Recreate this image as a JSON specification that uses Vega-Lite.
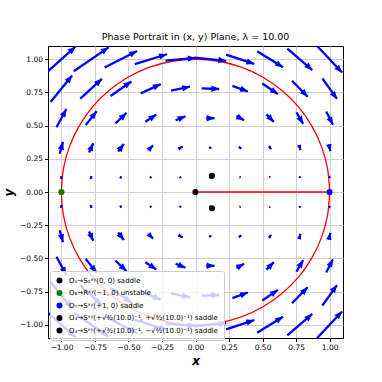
{
  "$schema": "https://vega.github.io/schema/vega-lite/v6.json",
  "width": 295,
  "height": 292,
  "autosize": {"type": "none"},
  "padding": {"left": 48, "top": 46, "right": 39, "bottom": 44},
  "background": "white",
  "config": {
    "font": "DejaVu Sans",
    "view": {"stroke": "black", "strokeWidth": 1},
    "axis": {
      "labelFont": "DejaVu Sans", "labelFontSize": 7.5, "labelColor": "black",
      "tickColor": "black", "tickSize": 3.5, "domainColor": "black",
      "gridColor": "#d0d0d0", "gridWidth": 1,
      "titleFont": "DejaVu Sans", "titleFontSize": 12, "titleFontStyle": "italic", "titleFontWeight": "bold", "titleColor": "black"
    }
  },
  "title": {"text": "Phase Portrait in (x, y) Plane, λ = 10.00", "fontSize": 9.5, "fontWeight": "normal", "font": "DejaVu Sans", "color": "black", "offset": 5, "anchor": "middle"},
  "encoding": {
    "x": {"field": "x0", "type": "quantitative", "scale": {"domain": [-1.1, 1.1], "nice": false, "zero": false},
          "axis": {"values": [-1, -0.75, -0.5, -0.25, 0, 0.25, 0.5, 0.75, 1], "format": ".2f", "title": "x", "titlePadding": 4, "labelPadding": 2, "grid": true, "labelOverlap": false, "labelFlush": false, "labelBound": false}},
    "y": {"field": "y0", "type": "quantitative", "scale": {"domain": [-1.1, 1.1], "nice": false, "zero": false},
          "axis": {"values": [-1, -0.75, -0.5, -0.25, 0, 0.25, 0.5, 0.75, 1], "format": ".2f", "title": "y", "titlePadding": 4, "labelPadding": 2, "grid": true, "labelOverlap": false, "labelFlush": false, "labelBound": false}}
  },
  "datasets": {
    "arrows": [
      {"x0":-1.105,"y0":0.905,"x1":-0.895,"y1":1.095},
      {"x0":-0.908,"y0":0.91,"x1":-0.648,"y1":1.09},
      {"x0":-0.678,"y0":0.938,"x1":-0.435,"y1":1.063},
      {"x0":-0.453,"y0":0.963,"x1":-0.213,"y1":1.038},
      {"x0":-0.223,"y0":0.99,"x1":0.001,"y1":1.01},
      {"x0":-0.007,"y0":1.013,"x1":0.229,"y1":0.988},
      {"x0":0.228,"y0":1.035,"x1":0.438,"y1":0.965},
      {"x0":0.46,"y0":1.06,"x1":0.653,"y1":0.94},
      {"x0":0.685,"y0":1.081,"x1":0.871,"y1":0.919},
      {"x0":0.907,"y0":1.1,"x1":1.093,"y1":0.9},
      {"x0":-1.105,"y0":-0.905,"x1":-0.895,"y1":-1.095},
      {"x0":-0.908,"y0":-0.91,"x1":-0.648,"y1":-1.09},
      {"x0":-0.678,"y0":-0.938,"x1":-0.435,"y1":-1.063},
      {"x0":-0.453,"y0":-0.963,"x1":-0.213,"y1":-1.038},
      {"x0":-0.223,"y0":-0.99,"x1":0.001,"y1":-1.01},
      {"x0":-0.007,"y0":-1.013,"x1":0.229,"y1":-0.988},
      {"x0":0.228,"y0":-1.035,"x1":0.438,"y1":-0.965},
      {"x0":0.46,"y0":-1.06,"x1":0.653,"y1":-0.94},
      {"x0":0.685,"y0":-1.081,"x1":0.871,"y1":-0.919},
      {"x0":0.907,"y0":-1.1,"x1":1.093,"y1":-0.9},
      {"x0":-1.081,"y0":0.678,"x1":-0.92,"y1":0.878},
      {"x0":-0.859,"y0":0.703,"x1":-0.698,"y1":0.853},
      {"x0":-0.634,"y0":0.723,"x1":-0.478,"y1":0.833},
      {"x0":-0.408,"y0":0.743,"x1":-0.259,"y1":0.813},
      {"x0":-0.182,"y0":0.763,"x1":-0.041,"y1":0.793},
      {"x0":0.046,"y0":0.781,"x1":0.177,"y1":0.776},
      {"x0":0.275,"y0":0.799,"x1":0.391,"y1":0.757},
      {"x0":0.498,"y0":0.818,"x1":0.614,"y1":0.738},
      {"x0":0.72,"y0":0.838,"x1":0.836,"y1":0.718},
      {"x0":0.946,"y0":0.856,"x1":1.055,"y1":0.701},
      {"x0":-1.081,"y0":-0.678,"x1":-0.92,"y1":-0.878},
      {"x0":-0.859,"y0":-0.703,"x1":-0.698,"y1":-0.853},
      {"x0":-0.634,"y0":-0.723,"x1":-0.478,"y1":-0.833},
      {"x0":-0.408,"y0":-0.743,"x1":-0.259,"y1":-0.813},
      {"x0":-0.182,"y0":-0.763,"x1":-0.041,"y1":-0.793},
      {"x0":0.046,"y0":-0.781,"x1":0.177,"y1":-0.776},
      {"x0":0.275,"y0":-0.799,"x1":0.391,"y1":-0.757},
      {"x0":0.498,"y0":-0.818,"x1":0.614,"y1":-0.738},
      {"x0":0.72,"y0":-0.838,"x1":0.836,"y1":-0.718},
      {"x0":0.946,"y0":-0.856,"x1":1.055,"y1":-0.701},
      {"x0":-1.037,"y0":0.488,"x1":-0.963,"y1":0.625},
      {"x0":-0.819,"y0":0.504,"x1":-0.737,"y1":0.609},
      {"x0":-0.597,"y0":0.516,"x1":-0.515,"y1":0.596},
      {"x0":-0.374,"y0":0.529,"x1":-0.292,"y1":0.584},
      {"x0":-0.148,"y0":0.541,"x1":-0.074,"y1":0.571},
      {"x0":0.08,"y0":0.556,"x1":0.142,"y1":0.556},
      {"x0":0.305,"y0":0.572,"x1":0.362,"y1":0.54},
      {"x0":0.529,"y0":0.585,"x1":0.584,"y1":0.528},
      {"x0":0.753,"y0":0.6,"x1":0.803,"y1":0.513},
      {"x0":0.975,"y0":0.606,"x1":1.025,"y1":0.506},
      {"x0":-1.037,"y0":-0.488,"x1":-0.963,"y1":-0.625},
      {"x0":-0.819,"y0":-0.504,"x1":-0.737,"y1":-0.609},
      {"x0":-0.597,"y0":-0.516,"x1":-0.515,"y1":-0.596},
      {"x0":-0.374,"y0":-0.529,"x1":-0.292,"y1":-0.584},
      {"x0":-0.148,"y0":-0.541,"x1":-0.074,"y1":-0.571},
      {"x0":0.08,"y0":-0.556,"x1":0.142,"y1":-0.556},
      {"x0":0.305,"y0":-0.572,"x1":0.362,"y1":-0.54},
      {"x0":0.529,"y0":-0.585,"x1":0.584,"y1":-0.528},
      {"x0":0.753,"y0":-0.6,"x1":0.803,"y1":-0.513},
      {"x0":0.975,"y0":-0.606,"x1":1.025,"y1":-0.506},
      {"x0":-1.013,"y0":0.288,"x1":-0.988,"y1":0.378},
      {"x0":-0.794,"y0":0.298,"x1":-0.762,"y1":0.368},
      {"x0":-0.577,"y0":0.305,"x1":-0.535,"y1":0.362},
      {"x0":-0.351,"y0":0.316,"x1":-0.316,"y1":0.351},
      {"x0":-0.126,"y0":0.325,"x1":-0.096,"y1":0.342},
      {"x0":0.104,"y0":0.333,"x1":0.119,"y1":0.333},
      {"x0":0.325,"y0":0.338,"x1":0.342,"y1":0.328},
      {"x0":0.549,"y0":0.343,"x1":0.564,"y1":0.323},
      {"x0":0.772,"y0":0.352,"x1":0.784,"y1":0.315},
      {"x0":0.994,"y0":0.358,"x1":1.006,"y1":0.308},
      {"x0":-1.013,"y0":-0.288,"x1":-0.988,"y1":-0.378},
      {"x0":-0.794,"y0":-0.298,"x1":-0.762,"y1":-0.368},
      {"x0":-0.577,"y0":-0.305,"x1":-0.535,"y1":-0.362},
      {"x0":-0.351,"y0":-0.316,"x1":-0.316,"y1":-0.351},
      {"x0":-0.126,"y0":-0.325,"x1":-0.096,"y1":-0.342},
      {"x0":0.104,"y0":-0.333,"x1":0.119,"y1":-0.333},
      {"x0":0.325,"y0":-0.338,"x1":0.342,"y1":-0.328},
      {"x0":0.549,"y0":-0.343,"x1":0.564,"y1":-0.323},
      {"x0":0.772,"y0":-0.352,"x1":0.784,"y1":-0.315},
      {"x0":0.994,"y0":-0.358,"x1":1.006,"y1":-0.308},
      {"x0":-1,"y0":0.101,"x1":-1,"y1":0.121},
      {"x0":-0.781,"y0":0.101,"x1":-0.776,"y1":0.121},
      {"x0":-0.56,"y0":0.105,"x1":-0.553,"y1":0.118},
      {"x0":-0.337,"y0":0.108,"x1":-0.329,"y1":0.115},
      {"x0":-0.116,"y0":0.109,"x1":-0.106,"y1":0.113},
      {"x0":0.105,"y0":0.111,"x1":0.117,"y1":0.111},
      {"x0":0.33,"y0":0.112,"x1":0.336,"y1":0.11},
      {"x0":0.554,"y0":0.113,"x1":0.558,"y1":0.109},
      {"x0":0.777,"y0":0.115,"x1":0.78,"y1":0.107},
      {"x0":0.999,"y0":0.116,"x1":1.001,"y1":0.106},
      {"x0":-1,"y0":-0.101,"x1":-1,"y1":-0.121},
      {"x0":-0.781,"y0":-0.101,"x1":-0.776,"y1":-0.121},
      {"x0":-0.56,"y0":-0.105,"x1":-0.553,"y1":-0.118},
      {"x0":-0.337,"y0":-0.108,"x1":-0.329,"y1":-0.115},
      {"x0":-0.116,"y0":-0.109,"x1":-0.106,"y1":-0.113},
      {"x0":0.105,"y0":-0.111,"x1":0.117,"y1":-0.111},
      {"x0":0.33,"y0":-0.112,"x1":0.336,"y1":-0.11},
      {"x0":0.554,"y0":-0.113,"x1":0.558,"y1":-0.109},
      {"x0":0.777,"y0":-0.115,"x1":0.78,"y1":-0.107},
      {"x0":0.999,"y0":-0.116,"x1":1.001,"y1":-0.106}
    ],
    "heads": [
      {"x0":-0.895,"y0":1.095,"ang":47.9,"m":0.283},
      {"x0":-0.648,"y0":1.09,"ang":55.3,"m":0.316},
      {"x0":-0.435,"y0":1.063,"ang":62.8,"m":0.273},
      {"x0":-0.213,"y0":1.038,"ang":72.6,"m":0.251},
      {"x0":0.001,"y0":1.01,"ang":84.9,"m":0.224},
      {"x0":0.229,"y0":0.988,"ang":96.1,"m":0.236},
      {"x0":0.438,"y0":0.965,"ang":108.4,"m":0.221},
      {"x0":0.653,"y0":0.94,"ang":121.9,"m":0.227},
      {"x0":0.871,"y0":0.919,"ang":131.1,"m":0.247},
      {"x0":1.093,"y0":0.9,"ang":137.1,"m":0.273},
      {"x0":-0.895,"y0":-1.095,"ang":132.1,"m":0.283},
      {"x0":-0.648,"y0":-1.09,"ang":124.7,"m":0.316},
      {"x0":-0.435,"y0":-1.063,"ang":117.2,"m":0.273},
      {"x0":-0.213,"y0":-1.038,"ang":107.4,"m":0.251},
      {"x0":0.001,"y0":-1.01,"ang":95.1,"m":0.224},
      {"x0":0.229,"y0":-0.988,"ang":83.9,"m":0.236},
      {"x0":0.438,"y0":-0.965,"ang":71.6,"m":0.221},
      {"x0":0.653,"y0":-0.94,"ang":58.1,"m":0.227},
      {"x0":0.871,"y0":-0.919,"ang":48.9,"m":0.247},
      {"x0":1.093,"y0":-0.9,"ang":42.9,"m":0.273},
      {"x0":-0.92,"y0":0.878,"ang":38.8,"m":0.257},
      {"x0":-0.698,"y0":0.853,"ang":47.0,"m":0.22},
      {"x0":-0.478,"y0":0.833,"ang":54.8,"m":0.191},
      {"x0":-0.259,"y0":0.813,"ang":64.8,"m":0.165},
      {"x0":-0.041,"y0":0.793,"ang":78.0,"m":0.144},
      {"x0":0.177,"y0":0.776,"ang":92.2,"m":0.131},
      {"x0":0.391,"y0":0.757,"ang":109.9,"m":0.123},
      {"x0":0.614,"y0":0.738,"ang":124.6,"m":0.141},
      {"x0":0.836,"y0":0.718,"ang":136.0,"m":0.167},
      {"x0":1.055,"y0":0.701,"ang":144.9,"m":0.189},
      {"x0":-0.92,"y0":-0.878,"ang":141.2,"m":0.257},
      {"x0":-0.698,"y0":-0.853,"ang":133.0,"m":0.22},
      {"x0":-0.478,"y0":-0.833,"ang":125.2,"m":0.191},
      {"x0":-0.259,"y0":-0.813,"ang":115.2,"m":0.165},
      {"x0":-0.041,"y0":-0.793,"ang":102.0,"m":0.144},
      {"x0":0.177,"y0":-0.776,"ang":87.8,"m":0.131},
      {"x0":0.391,"y0":-0.757,"ang":70.1,"m":0.123},
      {"x0":0.614,"y0":-0.738,"ang":55.4,"m":0.141},
      {"x0":0.836,"y0":-0.718,"ang":44.0,"m":0.167},
      {"x0":1.055,"y0":-0.701,"ang":35.1,"m":0.189},
      {"x0":-0.963,"y0":0.625,"ang":28.4,"m":0.156},
      {"x0":-0.737,"y0":0.609,"ang":38.0,"m":0.133},
      {"x0":-0.515,"y0":0.596,"ang":45.7,"m":0.115},
      {"x0":-0.292,"y0":0.584,"ang":56.1,"m":0.099},
      {"x0":-0.074,"y0":0.571,"ang":67.9,"m":0.08},
      {"x0":0.142,"y0":0.556,"ang":90,"m":0.062},
      {"x0":0.362,"y0":0.54,"ang":119.3,"m":0.065},
      {"x0":0.584,"y0":0.528,"ang":136.0,"m":0.079},
      {"x0":0.803,"y0":0.513,"ang":150.1,"m":0.1},
      {"x0":1.025,"y0":0.506,"ang":153.4,"m":0.112},
      {"x0":-0.963,"y0":-0.625,"ang":151.6,"m":0.156},
      {"x0":-0.737,"y0":-0.609,"ang":142.0,"m":0.133},
      {"x0":-0.515,"y0":-0.596,"ang":134.3,"m":0.115},
      {"x0":-0.292,"y0":-0.584,"ang":123.9,"m":0.099},
      {"x0":-0.074,"y0":-0.571,"ang":112.1,"m":0.08},
      {"x0":0.142,"y0":-0.556,"ang":90,"m":0.062},
      {"x0":0.362,"y0":-0.54,"ang":60.7,"m":0.065},
      {"x0":0.584,"y0":-0.528,"ang":44.0,"m":0.079},
      {"x0":0.803,"y0":-0.513,"ang":29.9,"m":0.1},
      {"x0":1.025,"y0":-0.506,"ang":26.6,"m":0.112},
      {"x0":-0.988,"y0":0.378,"ang":15.5,"m":0.093},
      {"x0":-0.762,"y0":0.368,"ang":24.6,"m":0.077},
      {"x0":-0.535,"y0":0.362,"ang":36.4,"m":0.071},
      {"x0":-0.316,"y0":0.351,"ang":45,"m":0.049},
      {"x0":-0.096,"y0":0.342,"ang":60.5,"m":0.034},
      {"x0":0.119,"y0":0.333,"ang":90,"m":0.015},
      {"x0":0.342,"y0":0.328,"ang":120.5,"m":0.02},
      {"x0":0.564,"y0":0.323,"ang":143.1,"m":0.025},
      {"x0":0.784,"y0":0.315,"ang":162.0,"m":0.039},
      {"x0":1.006,"y0":0.308,"ang":166.5,"m":0.051},
      {"x0":-0.988,"y0":-0.378,"ang":164.5,"m":0.093},
      {"x0":-0.762,"y0":-0.368,"ang":155.4,"m":0.077},
      {"x0":-0.535,"y0":-0.362,"ang":143.6,"m":0.071},
      {"x0":-0.316,"y0":-0.351,"ang":135,"m":0.049},
      {"x0":-0.096,"y0":-0.342,"ang":119.5,"m":0.034},
      {"x0":0.119,"y0":-0.333,"ang":90,"m":0.015},
      {"x0":0.342,"y0":-0.328,"ang":59.5,"m":0.02},
      {"x0":0.564,"y0":-0.323,"ang":36.9,"m":0.025},
      {"x0":0.784,"y0":-0.315,"ang":18.0,"m":0.039},
      {"x0":1.006,"y0":-0.308,"ang":13.5,"m":0.051},
      {"x0":-1,"y0":0.121,"ang":0,"m":0.02},
      {"x0":-0.776,"y0":0.121,"ang":14,"m":0.021},
      {"x0":-0.553,"y0":0.118,"ang":28.3,"m":0.015},
      {"x0":-0.329,"y0":0.115,"ang":48.8,"m":0.011},
      {"x0":-0.106,"y0":0.113,"ang":68.2,"m":0.011},
      {"x0":0.117,"y0":0.111,"ang":90,"m":0.012},
      {"x0":0.336,"y0":0.11,"ang":108,"m":0.006},
      {"x0":0.558,"y0":0.109,"ang":135,"m":0.006},
      {"x0":0.78,"y0":0.107,"ang":159,"m":0.009},
      {"x0":1.001,"y0":0.106,"ang":169,"m":0.01},
      {"x0":-1,"y0":-0.121,"ang":180,"m":0.02},
      {"x0":-0.776,"y0":-0.121,"ang":166,"m":0.021},
      {"x0":-0.553,"y0":-0.118,"ang":151.7,"m":0.015},
      {"x0":-0.329,"y0":-0.115,"ang":131.2,"m":0.011},
      {"x0":-0.106,"y0":-0.113,"ang":111.8,"m":0.011},
      {"x0":0.117,"y0":-0.111,"ang":90,"m":0.012},
      {"x0":0.336,"y0":-0.11,"ang":72,"m":0.006},
      {"x0":0.558,"y0":-0.109,"ang":45,"m":0.006},
      {"x0":0.78,"y0":-0.107,"ang":21,"m":0.009},
      {"x0":1.001,"y0":-0.106,"ang":11,"m":0.01}
    ],
    "circle": [
      {"i":0,"x0":1,"y0":0},{"i":1,"x0":0.985,"y0":0.174},{"i":2,"x0":0.94,"y0":0.342},{"i":3,"x0":0.866,"y0":0.5},
      {"i":4,"x0":0.766,"y0":0.643},{"i":5,"x0":0.643,"y0":0.766},{"i":6,"x0":0.5,"y0":0.866},{"i":7,"x0":0.342,"y0":0.94},
      {"i":8,"x0":0.174,"y0":0.985},{"i":9,"x0":0,"y0":1},{"i":10,"x0":-0.174,"y0":0.985},{"i":11,"x0":-0.342,"y0":0.94},
      {"i":12,"x0":-0.5,"y0":0.866},{"i":13,"x0":-0.643,"y0":0.766},{"i":14,"x0":-0.766,"y0":0.643},{"i":15,"x0":-0.866,"y0":0.5},
      {"i":16,"x0":-0.94,"y0":0.342},{"i":17,"x0":-0.985,"y0":0.174},{"i":18,"x0":-1,"y0":0},{"i":19,"x0":-0.985,"y0":-0.174},
      {"i":20,"x0":-0.94,"y0":-0.342},{"i":21,"x0":-0.866,"y0":-0.5},{"i":22,"x0":-0.766,"y0":-0.643},{"i":23,"x0":-0.643,"y0":-0.766},
      {"i":24,"x0":-0.5,"y0":-0.866},{"i":25,"x0":-0.342,"y0":-0.94},{"i":26,"x0":-0.174,"y0":-0.985},{"i":27,"x0":0,"y0":-1},
      {"i":28,"x0":0.174,"y0":-0.985},{"i":29,"x0":0.342,"y0":-0.94},{"i":30,"x0":0.5,"y0":-0.866},{"i":31,"x0":0.643,"y0":-0.766},
      {"i":32,"x0":0.766,"y0":-0.643},{"i":33,"x0":0.866,"y0":-0.5},{"i":34,"x0":0.94,"y0":-0.342},{"i":35,"x0":0.985,"y0":-0.174},
      {"i":36,"x0":1,"y0":0}
    ],
    "segment": [{"x0":0,"y0":0,"x1":1,"y1":0}],
    "fixed": [
      {"x0":0,"y0":0,"label":"O₅→S₀ˣʸ(0, 0) saddle"},
      {"x0":-1,"y0":0,"label":"O₆→Rˣʸ(−1, 0) unstable"},
      {"x0":1,"y0":0,"label":"O₇→Sˣʸ(+1, 0) saddle"},
      {"x0":0.1225,"y0":0.1225,"label":"O₄→Sˣʸ(+√³⁄₂(10.0)⁻¹, +√³⁄₂(10.0)⁻¹) saddle"},
      {"x0":0.1225,"y0":-0.1225,"label":"O₄→Sˣʸ(+√³⁄₂(10.0)⁻¹, −√³⁄₂(10.0)⁻¹) saddle"}
    ]
  },
  "layer": [
    {
      "data": {"name": "circle"},
      "mark": {"type": "line", "color": "#ff0000", "strokeWidth": 1.3, "interpolate": "cardinal", "clip": true},
      "encoding": {
        "order": {"field": "i", "type": "quantitative"}
      }
    },
    {
      "data": {"name": "segment"},
      "mark": {"type": "rule", "color": "#ff0000", "strokeWidth": 1.6},
      "encoding": {
        "x2": {"field": "x1"},
        "y2": {"field": "y1"}
      }
    },
    {
      "data": {"name": "arrows"},
      "mark": {"type": "rule", "color": "#0000ff", "strokeWidth": 2.3, "strokeCap": "butt", "clip": true},
      "encoding": {
        "x2": {"field": "x1"},
        "y2": {"field": "y1"}
      }
    },
    {
      "data": {"name": "heads"},
      "mark": {"type": "point", "shape": "M0,0L0.65,1.6L-0.65,1.6Z", "filled": true, "color": "#0000ff", "opacity": 1, "strokeWidth": 0, "clip": true},
      "encoding": {
        "angle": {"field": "ang", "type": "quantitative", "scale": null},
        "size": {"field": "m", "type": "quantitative", "scale": {"type": "pow", "exponent": 2, "domain": [0, 0.058], "range": [4, 96], "clamp": true}, "legend": null}
      }
    },
    {
      "data": {"name": "fixed"},
      "mark": {"type": "point", "filled": true, "opacity": 1, "size": 38, "strokeWidth": 0},
      "encoding": {
        "color": {
          "field": "label", "type": "nominal",
          "scale": {
            "domain": ["O₅→S₀ˣʸ(0, 0) saddle", "O₆→Rˣʸ(−1, 0) unstable", "O₇→Sˣʸ(+1, 0) saddle", "O₄→Sˣʸ(+√³⁄₂(10.0)⁻¹, +√³⁄₂(10.0)⁻¹) saddle", "O₄→Sˣʸ(+√³⁄₂(10.0)⁻¹, −√³⁄₂(10.0)⁻¹) saddle"],
            "range": ["#000000", "#008000", "#0000ff", "#000000", "#000000"]
          },
          "legend": {
            "orient": "none", "legendX": 2, "legendY": 225, "title": null,
            "symbolType": "circle", "symbolSize": 36, "symbolStrokeWidth": 0,
            "labelFont": "DejaVu Sans", "labelFontSize": 7, "labelColor": "black", "labelLimit": 400, "labelOffset": 6,
            "fillColor": "rgba(255,255,255,0.8)", "strokeColor": "#cccccc", "cornerRadius": 2,
            "padding": 6, "rowPadding": 4.5
          }
        }
      }
    }
  ]
}
